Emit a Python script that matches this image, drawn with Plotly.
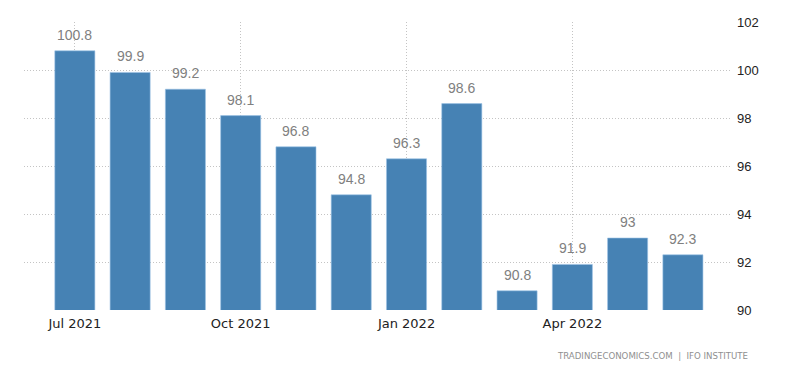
import plotly.graph_objects as go

months = ["2021-07", "2021-08", "2021-09", "2021-10", "2021-11", "2021-12",
          "2022-01", "2022-02", "2022-03", "2022-04", "2022-05", "2022-06"]
values = [100.8, 99.9, 99.2, 98.1, 96.8, 94.8, 96.3, 98.6, 90.8, 91.9, 93, 92.3]
tick_months = ["2021-07", "2021-10", "2022-01", "2022-04"]
tick_labels = ["Jul 2021", "Oct 2021", "Jan 2022", "Apr 2022"]
y_ticks = [90, 92, 94, 96, 98, 100, 102]
source = "TRADINGECONOMICS.COM  |  IFO INSTITUTE"

fig = go.Figure(go.Bar(
    x=months, y=values,
    marker=dict(color="#4682B4", line=dict(width=0.6, color="#9cc3e6")),
    cliponaxis=False,
))

for m, v in zip(months, values):
    fig.add_annotation(
        x=m, y=v, text=f"{v:g}", showarrow=False,
        yanchor="bottom", yshift=6,
        font=dict(color="#808080", size=14, family="Liberation Sans, Arial"),
    )

fig.update_layout(
    width=800, height=373,
    margin=dict(l=16, r=77, t=14, b=71),
    paper_bgcolor="white", plot_bgcolor="white",
    bargap=0.275,
    showlegend=False,
    font=dict(family="Liberation Sans, Arial", color="#222"),
)
grid = dict(showgrid=True, gridcolor="#c4c4c4", griddash="1px,2px", gridwidth=1,
            showline=False, zeroline=False, ticks="", automargin=False)
fig.update_xaxes(
    type="category",
    range=[-0.92, 11.87],
    tickmode="array", tickvals=tick_months, ticktext=tick_labels,
    ticklabelstandoff=4,
    tickfont=dict(size=13, color="#222", family="DejaVu Sans, Verdana"),
    **grid,
)
fig.update_yaxes(
    range=[90, 102], side="right",
    tickmode="array", tickvals=y_ticks,
    ticklabelstandoff=5,
    tickfont=dict(size=13, color="#222"),
    **grid,
)
fig.add_annotation(
    text=source, xref="paper", yref="paper", x=1.027, y=-0.16,
    xanchor="right", yanchor="middle", showarrow=False,
    font=dict(size=8.6, color="#8f8f8f", family="DejaVu Sans, Verdana"),
)
fig.write_html("out.html")
